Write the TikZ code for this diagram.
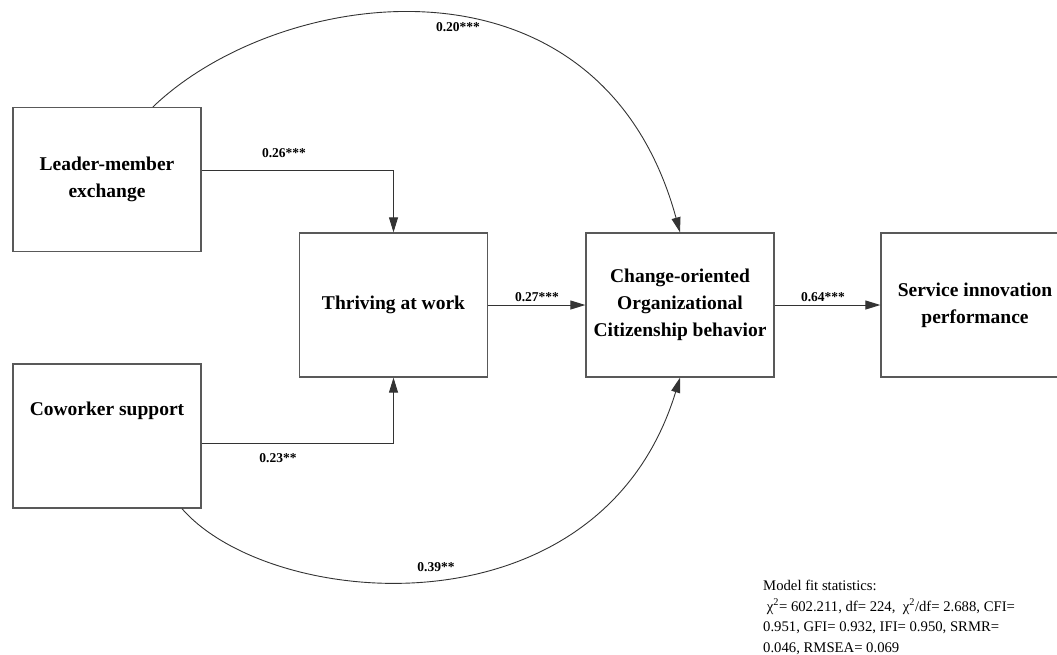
\documentclass[tikz,border=0pt]{standalone}
\usepackage{fontspec}
\setmainfont{Liberation Serif}
\usetikzlibrary{arrows.meta}
\begin{document}
\begin{tikzpicture}[x=1pt,y=-1pt,
  box/.style={draw=black!65,line width=1.3pt,minimum width=188pt,minimum height=144pt,inner sep=0pt,align=center,font=\fontsize{19.5}{27}\selectfont\bfseries},
  arr/.style={draw=black!80,line width=0.9pt,-{Triangle[length=15pt,width=9pt]}},
  lbl/.style={font=\fontsize{13.5}{16}\selectfont\bfseries,inner sep=0pt}]
\useasboundingbox (0,0) rectangle (1057,654);
\node[box] (LMX) at (107,179.5) {Leader-member\\exchange};
\node[box] (CS) at (107,436) {Coworker support\\[27pt]};
\node[box] (THR) at (393.5,305) {Thriving at work};
\node[box] (CHG) at (680,305) {Change-oriented\\Organizational\\Citizenship behavior};
\node[box] (SIP) at (975,305) {Service innovation\\performance};
\draw[arr] ([yshift=9.5pt]LMX.east) -| (THR.north);
\draw[arr] ([yshift=-7pt]CS.east) -| (THR.south);
\draw[arr] (THR.east) -- (CHG.west);
\draw[arr] (CHG.east) -- (SIP.west);
\draw[arr] ([xshift=46pt]LMX.north) .. controls (280,-15) and (600,-60) .. (CHG.north);
\draw[arr] ([xshift=75pt]CS.south) .. controls (270,610) and (600,640) .. (CHG.south);
\node[lbl] (l1) at (284,153) {0.26***};
\node[lbl] (l2) at (278,458) {0.23**};
\node[lbl] (l3) at (537,297) {0.27***};
\node[lbl] (l4) at (823,297) {0.64***};
\node[lbl] (l5) at (458,27) {0.20***};
\node[lbl] (l6) at (436,567) {0.39**};
\node[anchor=north west,inner sep=0pt,align=left,font=\fontsize{14.7}{20.5}\selectfont] (fit) at (763,580)
 {Model fit statistics:\\
 \ χ\textsuperscript{2}= 602.211, df= 224, \ χ\textsuperscript{2}/df= 2.688, CFI=\\
 0.951, GFI= 0.932, IFI= 0.950, SRMR=\\
 0.046, RMSEA= 0.069};
\end{tikzpicture}
\end{document}
